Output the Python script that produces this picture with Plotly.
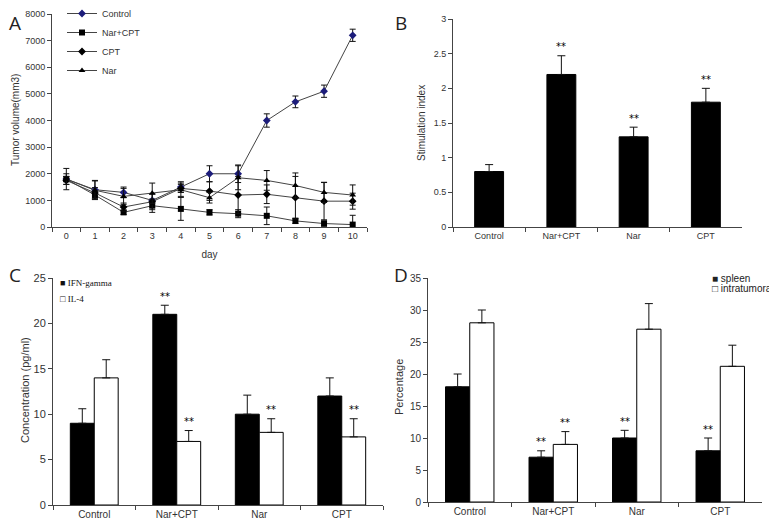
import plotly.graph_objects as go

# panel A - tumour volume by day
days = [str(d) for d in range(11)]
control_vol = [1800, 1400, 1300, 1000, 1500, 2000, 2000, 4000, 4700, 5100, 7200]
control_err = [400, 350, 200, 250, 200, 300, 330, 250, 220, 230, 230]
narcpt_vol = [1800, 1200, 550, 800, 680, 550, 500, 420, 230, 130, 90]
narcpt_err = [100, 150, 80, 250, 430, 100, 150, 330, 100, 100, 350]
cpt_vol = [1750, 1280, 750, 950, 1450, 1350, 1200, 1230, 1100, 970, 970]
cpt_err = [150, 200, 150, 300, 150, 350, 700, 350, 800, 700, 300]
nar_vol = [1800, 1380, 1150, 1270, 1400, 1100, 1850, 1750, 1560, 1300, 1200]
nar_err = [200, 350, 300, 380, 250, 200, 450, 370, 470, 380, 380]

groups = ["Control", "Nar+CPT", "Nar", "CPT"]

# panel B - stimulation index
stim = [0.8, 2.2, 1.3, 1.8]
stim_err = [0.1, 0.27, 0.14, 0.2]
stim_sig = [False, True, True, True]

# panel C - cytokines
ifn = [9, 21, 10, 12]
ifn_err = [1.6, 1.0, 2.1, 2.0]
ifn_sig = [False, True, False, False]
il4 = [14, 7, 8, 7.5]
il4_err = [2.0, 1.2, 1.5, 2.0]
il4_sig = [False, True, True, True]

# panel D - percentage
spleen = [18, 7, 10, 8]
spleen_err = [2.0, 1.0, 1.2, 2.0]
spleen_sig = [False, True, True, True]
intra = [28, 9, 27, 21.2]
intra_err = [2.0, 2.0, 4.0, 3.3]
intra_sig = [False, True, False, False]

# the page body has an 8px margin; positions below are given in window pixels
OFF = 8
W, H = 777 - OFF, 522 - OFF
TXT = "#333333"
SANS = "Liberation Sans"


def fx(sx):
    return (sx - OFF) / W


def fy(sy):
    return 1 - (sy - OFF) / H


fig = go.Figure()


def err(a, w=3):
    return dict(type="data", array=a, color="#111", thickness=1, width=w)


def err_up(a, w=4):
    return dict(type="data", array=a, arrayminus=[0] * len(a), symmetric=False,
                color="#111", thickness=1, width=w)


line_style = dict(color="#444", width=1)
fig.add_trace(go.Scatter(x=days, y=control_vol, error_y=err(control_err), name="Control",
                         mode="lines+markers", line=line_style,
                         marker=dict(symbol="diamond", size=6, color="#1c1c7a"),
                         xaxis="x", yaxis="y"))
fig.add_trace(go.Scatter(x=days, y=narcpt_vol, error_y=err(narcpt_err), name="Nar+CPT",
                         mode="lines+markers", line=line_style,
                         marker=dict(symbol="square", size=6, color="#000"),
                         xaxis="x", yaxis="y"))
fig.add_trace(go.Scatter(x=days, y=cpt_vol, error_y=err(cpt_err), name="CPT",
                         mode="lines+markers", line=line_style,
                         marker=dict(symbol="diamond", size=6, color="#000"),
                         xaxis="x", yaxis="y"))
fig.add_trace(go.Scatter(x=days, y=nar_vol, error_y=err(nar_err), name="Nar",
                         mode="lines+markers", line=line_style,
                         marker=dict(symbol="triangle-up", size=6, color="#000"),
                         xaxis="x", yaxis="y"))

bar_line = dict(color="#000", width=1)
fig.add_trace(go.Bar(x=groups, y=stim, error_y=err_up(stim_err), width=0.4,
                     marker=dict(color="#000", line=bar_line), showlegend=False,
                     xaxis="x2", yaxis="y2"))

fig.add_trace(go.Bar(x=groups, y=ifn, error_y=err_up(ifn_err), name="IFN-gamma",
                     marker=dict(color="#000", line=bar_line), showlegend=False,
                     xaxis="x3", yaxis="y3"))
fig.add_trace(go.Bar(x=groups, y=il4, error_y=err_up(il4_err), name="IL-4",
                     marker=dict(color="#fff", line=bar_line), showlegend=False,
                     xaxis="x3", yaxis="y3"))

fig.add_trace(go.Bar(x=groups, y=spleen, error_y=err_up(spleen_err), name="spleen",
                     marker=dict(color="#000", line=bar_line), showlegend=False,
                     xaxis="x4", yaxis="y4"))
fig.add_trace(go.Bar(x=groups, y=intra, error_y=err_up(intra_err), name="intratumoral",
                     marker=dict(color="#fff", line=bar_line), showlegend=False,
                     xaxis="x4", yaxis="y4"))

# significance stars
half = (1 - 0.42) / 4


def stars(vals, errs, sig, xa, ya, off):
    for i, (v, e, s) in enumerate(zip(vals, errs, sig)):
        if s:
            fig.add_annotation(x=i + off, y=v + e, xref=xa, yref=ya, text="**",
                               showarrow=False, yshift=9,
                               font=dict(size=10, color="#000", family="DejaVu Sans"))


stars(stim, stim_err, stim_sig, "x2", "y2", 0)
stars(ifn, ifn_err, ifn_sig, "x3", "y3", -half)
stars(il4, il4_err, il4_sig, "x3", "y3", half)
stars(spleen, spleen_err, spleen_sig, "x4", "y4", -half)
stars(intra, intra_err, intra_sig, "x4", "y4", half)


def xax(x0, x1, anchor, size=9, n=4):
    return dict(domain=[fx(x0), fx(x1)], anchor=anchor, type="category", tickson="boundaries",
                range=[-0.5, n - 0.5], automargin=False, ticks="outside", ticklen=4,
                tickcolor="#444", showline=True, linecolor="#444", showgrid=False, zeroline=False,
                tickfont=dict(size=size, color=TXT, family=SANS))


def yax(y0, y1, anchor, rng, dt, size=9):
    return dict(domain=[fy(y0), fy(y1)], anchor=anchor, range=rng, dtick=dt, ticks="outside",
                ticklen=4, automargin=False, tickcolor="#444", showline=True, linecolor="#444",
                showgrid=False, zeroline=False, tickfont=dict(size=size, color=TXT, family=SANS))


xa = xax(52, 367, "y", n=len(days))
xa["title"] = dict(text="day", font=dict(size=10, color=TXT, family=SANS), standoff=11)
fig.update_layout(
    width=W, height=H, margin=dict(l=0, r=0, t=0, b=0, autoexpand=False),
    paper_bgcolor="white", plot_bgcolor="white",
    barmode="group", bargap=0.42, bargroupgap=0,
    xaxis=xa,
    yaxis=yax(227, 14, "x", [0, 8000], 1000),
    xaxis2=xax(453, 742, "y2"),
    yaxis2=yax(227, 19, "x2", [0, 3], 0.5),
    xaxis3=xax(53, 383, "y3", 10),
    yaxis3=yax(505, 278, "x3", [0, 25], 5, 11),
    xaxis4=xax(428, 762, "y4", 10),
    yaxis4=yax(502, 278, "x4", [0, 35], 5, 10),
    legend=dict(x=fx(62), y=fy(-1), xanchor="left", yanchor="top", bgcolor="rgba(0,0,0,0)",
                font=dict(size=9, color=TXT, family=SANS), itemwidth=30),
)


def paper_text(txt, x, y, size, family=SANS, color=TXT, angle=0, xanchor="center", yanchor="middle"):
    fig.add_annotation(x=fx(x), y=fy(y), xref="paper", yref="paper", text=txt, showarrow=False,
                       textangle=angle, xanchor=xanchor, yanchor=yanchor,
                       font=dict(size=size, color=color, family=family))


# panel letters
for txt, x, y in [("A", 15, 8), ("B", 401, 8), ("C", 15, 260), ("D", 401, 260)]:
    paper_text(txt, x, y, 19, family="Open Sans", color="#222", yanchor="top")

# y-axis titles
paper_text("Tumor volume(mm3)", 15, 120, 10, angle=-90)
paper_text("Stimulation index", 422, 123, 10, angle=-90)
paper_text("Concentration (pg/ml)", 25, 390, 11, angle=-90)
paper_text("Percentage", 399, 387, 11, angle=-90)

# legends of panels C and D
paper_text("■ IFN-gamma", 58, 283, 9, family="Liberation Serif", color="#111", xanchor="left")
paper_text("□ IL-4", 58, 299, 9, family="Liberation Serif", color="#111", xanchor="left")
paper_text("■ spleen", 710, 278, 10, color="#222", xanchor="left")
paper_text("□ intratumoral", 710, 288, 10, color="#222", xanchor="left")

fig.write_html("out.html")
